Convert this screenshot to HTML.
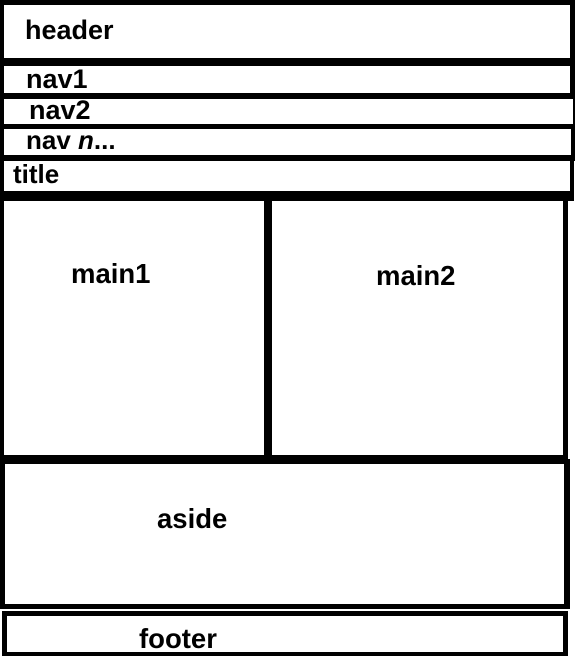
<!DOCTYPE html>
<html><head><meta charset="utf-8"><style>
html,body{margin:0;padding:0;background:#fff;}
svg{display:block;}
text{font-family:"Liberation Sans",Arial,sans-serif;font-weight:bold;font-size:27.5px;fill:#000;}
</style></head><body>
<svg width="575" height="656" viewBox="0 0 575 656" xmlns="http://www.w3.org/2000/svg">
<rect width="575" height="656" fill="#fff"/>
<g fill="#000">
<rect x="0" y="0" width="575" height="5"/>
<rect x="0" y="58" width="575" height="8"/>
<rect x="0" y="93" width="575" height="6"/>
<rect x="0" y="124" width="575" height="5"/>
<rect x="0" y="155" width="575" height="6"/>
<rect x="0" y="191" width="573" height="10"/>
<rect x="0" y="0" width="4" height="464"/>
<rect x="570" y="0" width="5" height="99"/>
<rect x="573" y="93" width="2" height="36"/>
<rect x="571" y="124" width="4" height="37"/>
<rect x="570" y="155" width="4" height="46"/>
<rect x="563" y="192" width="5" height="272"/>
<rect x="264" y="200" width="8" height="258"/>
<rect x="0" y="455" width="568" height="9"/>
<rect x="0" y="455" width="5" height="154"/>
<rect x="0" y="604" width="570" height="5"/>
<rect x="564" y="459" width="6" height="150"/>
<rect x="2" y="611" width="566" height="5"/>
<rect x="2" y="611" width="5" height="45"/>
<rect x="2" y="652" width="566" height="4"/>
<rect x="563" y="611" width="5" height="45"/>
</g>
<text x="25" y="39" style="font-size:27px">header</text>
<text x="26" y="88" style="font-size:27px">nav1</text>
<text x="29" y="119" style="font-size:27px">nav2</text>
<text x="26" y="149" style="font-size:26px">nav <tspan font-style="italic">n</tspan>...</text>
<text x="13" y="183" style="font-size:26px">title</text>
<text x="71" y="283">main1</text>
<text x="376" y="285">main2</text>
<text x="157" y="528">aside</text>
<text x="139" y="648">footer</text>
</svg>
</body></html>
